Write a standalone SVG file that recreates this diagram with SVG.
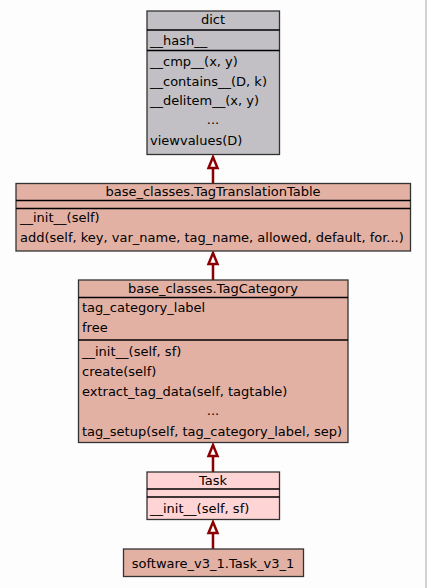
<svg xmlns="http://www.w3.org/2000/svg" width="427" height="588" viewBox="0 0 427 588">
<defs>
<style>
text{font-family:"DejaVu Sans",sans-serif;font-size:13px;fill:#000}
.c{text-anchor:middle}
.box{stroke:#333;stroke-width:1.3}
.sep{stroke:#000;stroke-width:1.3}
.gray{fill:#c2c0c4}
.salmon{fill:#e3b1a4}
.pink{fill:#ffd4d4}
.edge{stroke:#8b0000;stroke-width:2.5;fill:none}
.head{stroke:#8b0000;stroke-width:2.5;fill:#fff}
</style>
</defs>
<rect width="427" height="588" fill="#fdfdfd"/>
<line x1="426" y1="0" x2="426" y2="588" stroke="#aaa" stroke-width="1"/>
<g id="connectors">
<line class="edge" x1="213" y1="168" x2="213" y2="183"/>
<polygon class="head" points="213,157 208.5,168 217.5,168"/>
<line class="edge" x1="213" y1="263" x2="213" y2="280"/>
<polygon class="head" points="213,253 208.5,264 217.5,264"/>
<line class="edge" x1="213" y1="455" x2="213" y2="472"/>
<polygon class="head" points="213,445 208.5,456 217.5,456"/>
<line class="edge" x1="213" y1="532" x2="213" y2="549"/>
<polygon class="head" points="213,522 208.5,533 217.5,533"/>
</g>
<g id="dict">
<rect class="box gray" x="147" y="11" width="132.5" height="143.5"/>
<line class="sep" x1="147" y1="30" x2="279.5" y2="30"/>
<line class="sep" x1="147" y1="50.5" x2="279.5" y2="50.5"/>
<text class="c" x="213" y="24">dict</text>
<text x="150" y="45">__hash__</text>
<text x="150" y="66">__cmp__(x, y)</text>
<text x="150" y="86">__contains__(D, k)</text>
<text x="150" y="105">__delitem__(x, y)</text>
<text class="c" x="213" y="124">...</text>
<text x="150" y="145">viewvalues(D)</text>
</g>
<g id="TagTranslationTable">
<rect class="box salmon" x="16" y="183.5" width="394.5" height="67.5"/>
<line class="sep" x1="16" y1="200.5" x2="410.5" y2="200.5"/>
<line class="sep" x1="16" y1="208.5" x2="410.5" y2="208.5"/>
<text class="c" x="213" y="196">base_classes.TagTranslationTable</text>
<text x="20" y="222">__init__(self)</text>
<text x="20" y="242">add(self, key, var_name, tag_name, allowed, default, for...)</text>
</g>
<g id="TagCategory">
<rect class="box salmon" x="78.5" y="280" width="269.5" height="162.5"/>
<line class="sep" x1="78.5" y1="297.5" x2="348" y2="297.5"/>
<line class="sep" x1="78.5" y1="340" x2="348" y2="340"/>
<text class="c" x="213" y="293">base_classes.TagCategory</text>
<text x="82" y="312">tag_category_label</text>
<text x="82" y="332">free</text>
<text x="82" y="356">__init__(self, sf)</text>
<text x="82" y="376">create(self)</text>
<text x="82" y="396">extract_tag_data(self, tagtable)</text>
<text class="c" x="213" y="415">...</text>
<text x="82" y="436">tag_setup(self, tag_category_label, sep)</text>
</g>
<g id="Task">
<rect class="box pink" x="147" y="472" width="132.5" height="47.5"/>
<line class="sep" x1="147" y1="489" x2="279.5" y2="489"/>
<line class="sep" x1="147" y1="497" x2="279.5" y2="497"/>
<text class="c" x="213" y="485">Task</text>
<text x="150" y="513">__init__(self, sf)</text>
</g>
<g id="Task_v3_1">
<rect class="box salmon" x="123.5" y="549" width="180" height="27.5"/>
<text class="c" x="213" y="568">software_v3_1.Task_v3_1</text>
</g>
</svg>
